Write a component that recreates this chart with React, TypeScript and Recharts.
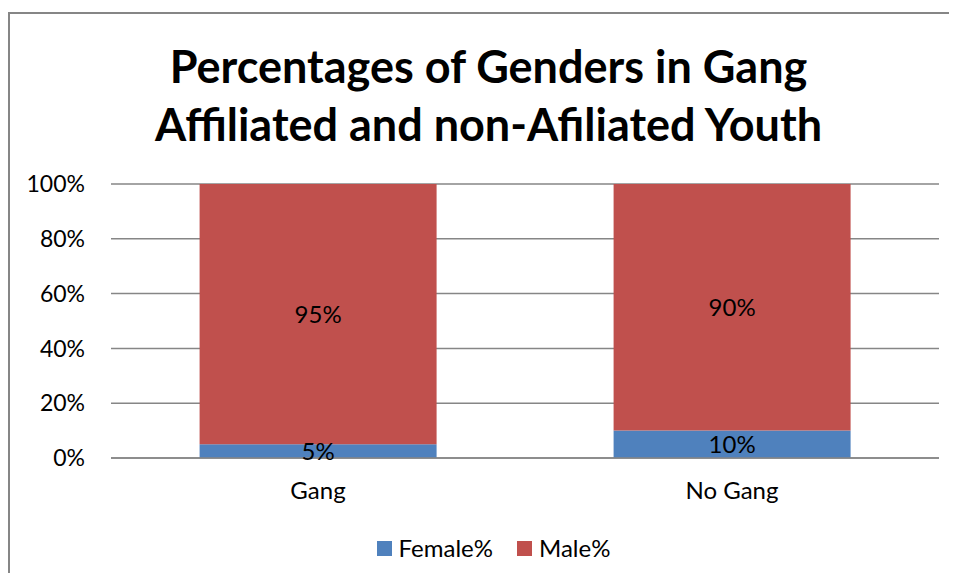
import React from 'react';
import { BarChart, Bar, XAxis, YAxis, CartesianGrid, Legend, LabelList } from 'recharts';

const categories = ['Gang', 'No Gang'];
const femalePct = [5, 10];
const malePct = [95, 90];
const yTicks = [0, 20, 40, 60, 80, 100];

const FONT = 'Lato, "Open Sans", sans-serif';

const data = categories.map((c, i) => ({ name: c, female: femalePct[i], male: malePct[i] }));

const renderLegend = (props: any) => {
  const { payload } = props;
  return (
    <div style={{ display: 'flex', justifyContent: 'center', alignItems: 'center', fontFamily: FONT, fontSize: 24, lineHeight: '28px', color: '#000' }}>
      {payload.map((entry: any, i: number) => (
        <div key={i} style={{ display: 'flex', alignItems: 'center', marginRight: i === 0 ? 24 : 0 }}>
          <span style={{ display: 'inline-block', width: 15, height: 15, background: entry.color, marginRight: 7 }} />
          <span>{entry.value}</span>
        </div>
      ))}
    </div>
  );
};

const App: React.FC = () => {
  return (
    <div style={{ position: 'relative', width: 949, height: 565, fontFamily: FONT, overflow: 'hidden' }}>
      <style>{'html, body { overflow: hidden; }'}</style>
      {/* frame, only top and left edges visible */}
      <div style={{ position: 'absolute', top: 4, left: 0, width: 960, height: 600, borderTop: '2px solid #868686', borderLeft: '2px solid #868686' }} />
      <div style={{ position: 'absolute', top: 29, left: 6, width: 949, textAlign: 'center', fontWeight: 700, fontSize: 45, lineHeight: '58px', color: '#000' }}>
        Percentages of Genders in Gang
        <br />
        Affiliated and non-Afiliated Youth
      </div>
      <div style={{ position: 'absolute', top: 0, left: 0 }}>
        <BarChart
          width={949}
          height={565}
          data={data}
          margin={{ top: 176, right: 18, left: 0, bottom: 57 }}
          barCategoryGap="21.4%"
        >
          <CartesianGrid vertical={false} stroke="#868686" strokeWidth={1.5} />
          <XAxis
            dataKey="name"
            tickLine={false}
            axisLine={{ stroke: '#868686', strokeWidth: 1.5 }}
            tickSize={0}
            tickMargin={24}
            tick={{ fill: '#000', fontSize: 24, fontFamily: FONT }}
          />
          <YAxis
            width={103}
            domain={[0, 100]}
            ticks={yTicks}
            tickFormatter={(v: number) => `${v}%`}
            axisLine={false}
            tickLine={false}
            tickSize={0}
            tickMargin={26}
            tick={{ fill: '#000', fontSize: 23, fontFamily: FONT }}
          />
          <Legend
            content={renderLegend}
            wrapperStyle={{ position: 'absolute', top: 526, left: 11, width: 949 }}
          />
          <Bar dataKey="female" name="Female%" stackId="a" fill="#4F81BD" isAnimationActive={false}>
            <LabelList dataKey="female" position="center" formatter={(v: any) => `${v}%`} style={{ fill: '#000', fontSize: 24, fontFamily: FONT }} />
          </Bar>
          <Bar dataKey="male" name="Male%" stackId="a" fill="#C0504D" isAnimationActive={false}>
            <LabelList dataKey="male" position="center" formatter={(v: any) => `${v}%`} style={{ fill: '#000', fontSize: 24, fontFamily: FONT }} />
          </Bar>
        </BarChart>
      </div>
    </div>
  );
};

export default App;
